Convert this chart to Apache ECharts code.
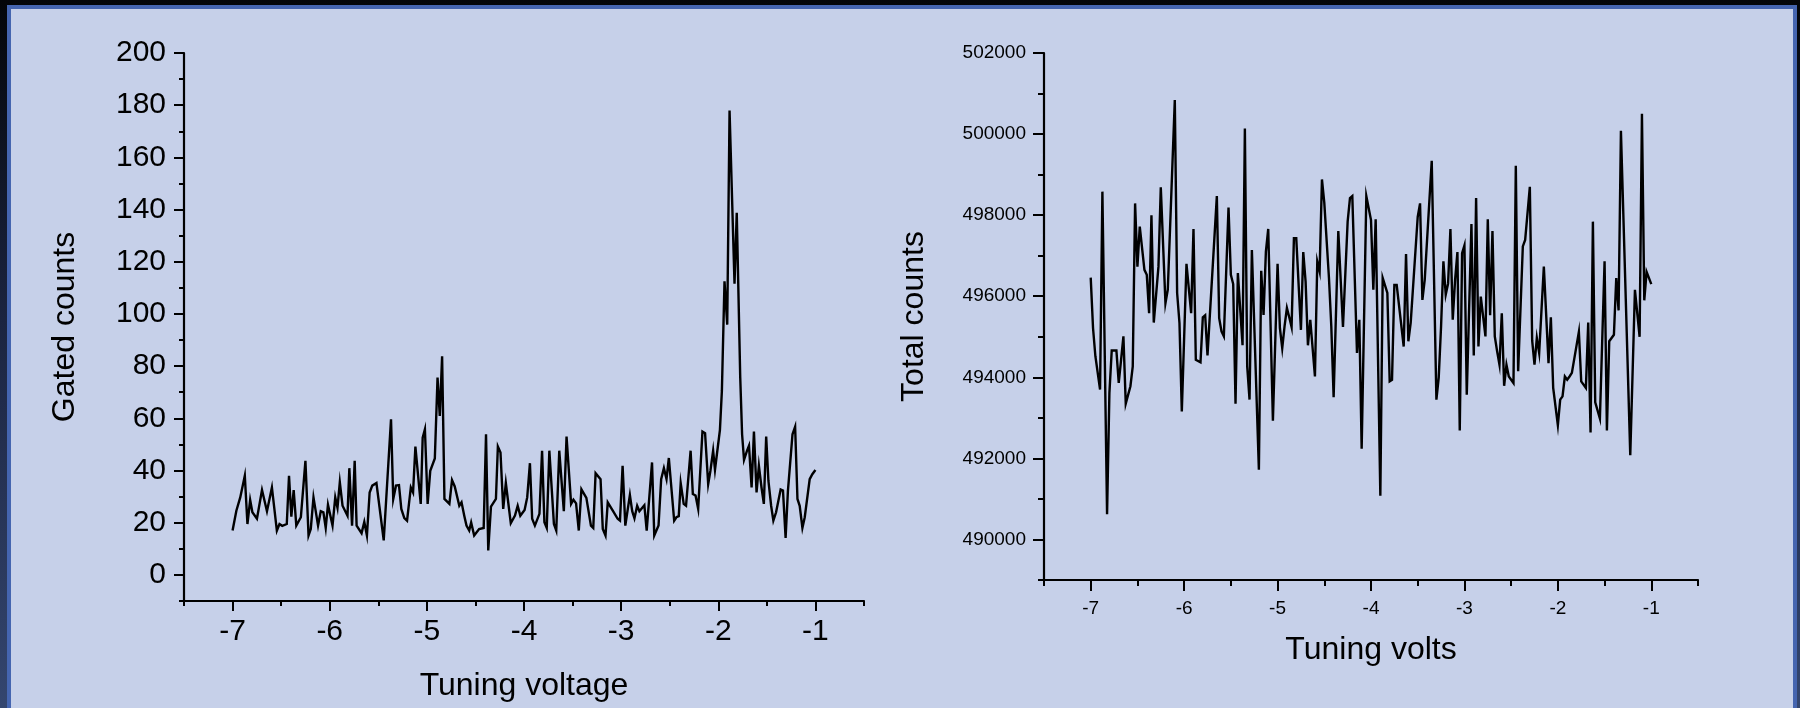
<!DOCTYPE html>
<html>
<head>
<meta charset="utf-8">
<script src="https://cdn.jsdelivr.net/npm/echarts@6/dist/echarts.min.js"></script>
<style>
html,body{margin:0;padding:0;width:1800px;height:708px;overflow:hidden;
  background:linear-gradient(180deg,#030509 0%,#1b2440 45%,#34466f 100%);}
#frame{position:absolute;left:7px;top:5px;width:1790px;height:720px;box-sizing:border-box;
  border:4px solid #4565B0;background:#C6D0E9;}
#chart{position:absolute;left:0;top:0;width:1800px;height:708px;}
</style>
</head>
<body>
<div id="frame"></div>
<div id="chart"></div>
<script>
// ---------- data ----------
// Left panel: Gated counts vs Tuning voltage
const leftVolts = [-7.000,-6.961,-6.921,-6.874,-6.847,-6.819,-6.796,-6.749,-6.697,-6.646,
-6.595,-6.544,-6.517,-6.489,-6.442,-6.419,-6.395,-6.371,-6.344,-6.297,
-6.250,-6.218,-6.195,-6.167,-6.120,-6.092,-6.065,-6.041,-6.018,-5.971,
-5.943,-5.920,-5.896,-5.868,-5.817,-5.798,-5.770,-5.743,-5.723,-5.672,
-5.644,-5.617,-5.589,-5.562,-5.519,-5.444,-5.369,-5.346,-5.318,-5.287,
-5.263,-5.232,-5.204,-5.165,-5.142,-5.118,-5.063,-5.043,-5.020,-4.992,
-4.965,-4.918,-4.890,-4.867,-4.843,-4.819,-4.768,-4.741,-4.713,-4.666,
-4.643,-4.615,-4.592,-4.564,-4.544,-4.513,-4.462,-4.415,-4.391,-4.368,
-4.340,-4.289,-4.269,-4.242,-4.214,-4.187,-4.136,-4.093,-4.065,-4.038,
-3.994,-3.967,-3.939,-3.916,-3.888,-3.841,-3.814,-3.790,-3.766,-3.739,
-3.692,-3.668,-3.637,-3.590,-3.562,-3.515,-3.491,-3.464,-3.436,-3.409,
-3.358,-3.311,-3.287,-3.263,-3.212,-3.189,-3.161,-3.138,-3.083,-3.036,
-3.012,-2.985,-2.957,-2.910,-2.886,-2.863,-2.835,-2.812,-2.761,-2.737,
-2.682,-2.659,-2.615,-2.588,-2.560,-2.533,-2.509,-2.454,-2.431,-2.407,
-2.387,-2.356,-2.332,-2.285,-2.262,-2.234,-2.207,-2.163,-2.136,-2.104,
-2.081,-2.053,-2.034,-1.983,-1.963,-1.936,-1.908,-1.884,-1.833,-1.810,
-1.774,-1.755,-1.735,-1.704,-1.684,-1.657,-1.633,-1.606,-1.582,-1.555,
-1.531,-1.507,-1.484,-1.456,-1.433,-1.405,-1.358,-1.334,-1.307,-1.283,
-1.236,-1.209,-1.185,-1.162,-1.134,-1.110,-1.059,-1.032,-1.000];
const leftCounts = [17.0,24.6,29.7,38.0,19.5,28.7,24.0,21.5,32.5,24.4,
33.5,17.0,19.5,18.8,19.5,38.0,22.3,32.5,18.9,22.1,
43.7,15.1,17.6,29.7,18.9,24.4,24.0,18.0,26.9,18.9,
29.7,25.7,35.5,26.5,22.7,40.9,18.9,43.7,18.9,16.0,
20.3,15.1,31.6,34.2,35.2,13.2,59.6,29.1,34.2,34.4,
25.3,21.8,20.8,33.5,31.6,49.2,27.2,52.6,55.8,27.2,
39.9,44.6,75.6,60.9,83.8,29.1,27.2,36.3,33.9,26.5,
27.8,22.7,18.9,17.0,20.1,15.1,17.6,18.0,53.9,9.4,
26.2,29.1,49.2,46.9,25.3,35.2,19.8,22.7,26.5,22.7,
24.9,29.7,42.8,21.5,18.9,23.4,47.6,20.2,18.0,47.6,
19.5,17.0,47.6,24.4,53.0,27.2,28.8,27.4,17.0,32.8,
29.5,18.9,18.0,39.0,36.7,17.6,15.1,27.8,24.4,21.5,
20.8,41.8,18.9,30.6,24.4,21.7,26.5,24.4,26.7,17.0,
43.1,15.1,18.9,36.7,40.9,36.7,44.8,20.8,22.1,22.5,
35.2,27.2,26.5,47.6,31.0,30.4,25.3,54.9,54.3,34.8,
39.9,47.6,40.3,55.6,70.5,112.5,95.9,178.0,111.6,138.8,
75.6,53.9,44.1,47.6,49.5,33.5,54.9,31.6,41.8,33.5,
27.2,53.0,36.1,26.5,20.8,24.0,32.7,32.3,14.2,32.3,
53.9,56.8,29.1,26.5,18.0,22.1,36.7,38.6,40.2];

// Right panel: Total counts vs Tuning volts
const rightVolts = [-7,-6.975,-6.95,-6.9,-6.875,-6.825,-6.8,-6.775,-6.725,-6.7,
-6.675,-6.65,-6.625,-6.575,-6.55,-6.525,-6.5,-6.475,-6.425,-6.4,
-6.375,-6.35,-6.325,-6.275,-6.25,-6.2,-6.175,-6.1,-6.075,-6.05,
-6.025,-5.975,-5.925,-5.9,-5.875,-5.825,-5.8,-5.775,-5.75,-5.65,
-5.625,-5.6,-5.575,-5.525,-5.5,-5.475,-5.45,-5.425,-5.375,-5.35,
-5.325,-5.3,-5.275,-5.2,-5.175,-5.15,-5.125,-5.1,-5.05,-5,
-4.975,-4.95,-4.925,-4.9,-4.875,-4.85,-4.825,-4.8,-4.75,-4.725,
-4.7,-4.675,-4.65,-4.6,-4.575,-4.55,-4.525,-4.5,-4.45,-4.425,
-4.4,-4.35,-4.3,-4.25,-4.225,-4.2,-4.15,-4.125,-4.1,
-4.05,-4,-3.975,-3.95,-3.9,-3.875,-3.825,-3.8,-3.775,-3.75,
-3.725,-3.65,-3.625,-3.6,-3.575,-3.5,-3.475,-3.45,-3.425,-3.35,
-3.3,-3.275,-3.25,-3.225,-3.2,-3.175,-3.15,-3.125,-3.1,-3.075,
-3.05,-3.025,-3,-2.975,-2.925,-2.9,-2.875,-2.85,-2.825,-2.775,
-2.75,-2.725,-2.7,-2.675,-2.65,-2.625,-2.6,-2.575,-2.55,-2.525,
-2.475,-2.45,-2.425,-2.375,-2.35,-2.3,-2.275,-2.25,-2.225,-2.2,
-2.15,-2.1,-2.075,-2.05,-2,-1.975,-1.95,-1.925,-1.9,-1.875,
-1.85,-1.775,-1.75,-1.7,-1.675,-1.65,-1.625,-1.6,-1.55,-1.5,
-1.475,-1.45,-1.4,-1.375,-1.35,-1.325,-1.225,-1.175,
-1.125,-1.1,-1.075,-1.05,-1];
const rightCounts = [496460,495210,494520,493700,498580,490620,493610,494660,494660,493860,
494430,495010,493350,493780,494270,498290,496730,497720,496650,496530,
495580,498000,495350,496730,498690,495830,496160,500840,496080,495340,
493160,496800,495580,497660,494430,494370,495480,495530,494540,498470,
495460,495130,495010,498190,496530,496300,493350,496570,494790,500140,
494270,493450,497140,491720,496630,495540,497100,497660,492930,496800,
495210,494720,495260,495710,495480,495240,497430,497430,495170,497090,
496360,494790,495420,494020,496860,496610,498880,498310,496450,495260,
493510,497610,495240,497840,498420,498470,494600,495420,492240,
498470,497880,496160,497900,491080,496450,496080,493900,493940,496280,
496280,494760,497040,494890,495350,497960,498290,495910,496400,499340,
493450,494000,495260,496860,496040,496310,497660,495420,496400,497090,
492690,497060,497250,493570,497780,494540,498420,494760,495990,495010,
497900,495530,497610,495010,494640,494310,495580,493790,494310,494020,
493860,499220,494150,497230,497390,498700,494910,494310,494970,494600,
496730,494350,495480,493740,492820,493450,493530,494020,493940,494020,
494110,495120,493900,493740,495350,492640,497840,493380,492980,496860,
492690,494890,495050,496450,495650,500080,492080,496160,
495000,500500,495900,496600,496300];

// tick values
const leftXTicks  = [-7,-6,-5,-4,-3,-2,-1];
const leftXMinor  = [-7.5,-6.5,-5.5,-4.5,-3.5,-2.5,-1.5,-0.5];
const leftYTicks  = [0,20,40,60,80,100,120,140,160,180,200];
const leftYMinor  = [-10,10,30,50,70,90,110,130,150,170,190];
const rightXTicks = [-7,-6,-5,-4,-3,-2,-1];
const rightXMinor = [-7.5,-6.5,-5.5,-4.5,-3.5,-2.5,-1.5,-0.5];
const rightYTicks = [490000,492000,494000,496000,498000,500000,502000];
const rightYMinor = [489000,491000,493000,495000,497000,499000,501000];

// ---------- chart ----------
const FONT = '"Liberation Sans", Arial, sans-serif';
const BLACK = '#000';
const leftData = leftVolts.map((v,i)=>[v,leftCounts[i]]);
const rightData = rightVolts.map((v,i)=>[v,rightCounts[i]]);

function mainAxis(o){
  return Object.assign({
    type:'value', splitLine:{show:false},
    axisLine:{show:true,onZero:false,lineStyle:{color:BLACK,width:2.2}},
  }, o);
}
function tickAxis(gridIndex,min,max,position,values,len){
  return {type:'value',gridIndex,min,max,position,
    axisLine:{show:false,onZero:false},
    axisTick:{show:true,customValues:values,length:len,lineStyle:{color:BLACK,width:2}},
    axisLabel:{show:false},splitLine:{show:false}};
}
const fmt = v => String(v);

const chart = echarts.init(document.getElementById('chart'),null,{renderer:'canvas'});
chart.setOption({
  animation:false,
  backgroundColor:'transparent',
  grid:[
    {left:184,top:53,width:680,height:548},
    {left:1044,top:53,width:654,height:527}
  ],
  xAxis:[
    mainAxis({gridIndex:0,min:-7.5,max:-0.5,position:'bottom',
      axisTick:{show:true,customValues:leftXTicks,length:10,lineStyle:{color:BLACK,width:2}},
      axisLabel:{customValues:leftXTicks,formatter:fmt,fontSize:30,color:BLACK,fontFamily:FONT,margin:16},
      name:'Tuning voltage',nameLocation:'middle',nameGap:69,
      nameTextStyle:{fontSize:32,color:BLACK,fontFamily:FONT}}),
    tickAxis(0,-7.5,-0.5,'bottom',leftXMinor,5),
    mainAxis({gridIndex:1,min:-7.5,max:-0.5,position:'bottom',
      axisTick:{show:true,customValues:rightXTicks,length:11,lineStyle:{color:BLACK,width:2}},
      axisLabel:{customValues:rightXTicks,formatter:fmt,fontSize:19,color:BLACK,fontFamily:FONT,margin:19},
      name:'Tuning volts',nameLocation:'middle',nameGap:54,
      nameTextStyle:{fontSize:32,color:BLACK,fontFamily:FONT}}),
    tickAxis(1,-7.5,-0.5,'bottom',rightXMinor,6)
  ],
  yAxis:[
    mainAxis({gridIndex:0,min:-10,max:200,position:'left',
      axisTick:{show:true,customValues:leftYTicks,length:10,lineStyle:{color:BLACK,width:2}},
      axisLabel:{customValues:leftYTicks,formatter:fmt,fontSize:30,color:BLACK,fontFamily:FONT,margin:18},
      name:'Gated counts',nameLocation:'middle',nameGap:103,nameRotate:90,
      nameTextStyle:{fontSize:32,color:BLACK,fontFamily:FONT}}),
    tickAxis(0,-10,200,'left',leftYMinor,5),
    mainAxis({gridIndex:1,min:489000,max:502000,position:'left',
      axisTick:{show:true,customValues:rightYTicks,length:11,lineStyle:{color:BLACK,width:2}},
      axisLabel:{customValues:rightYTicks,formatter:fmt,fontSize:19,color:BLACK,fontFamily:FONT,margin:18},
      name:'Total counts',nameLocation:'middle',nameGap:114,nameRotate:90,
      nameTextStyle:{fontSize:32,color:BLACK,fontFamily:FONT}}),
    tickAxis(1,489000,502000,'left',rightYMinor,6)
  ],
  series:[
    {type:'line',xAxisIndex:0,yAxisIndex:0,data:leftData,showSymbol:false,symbol:'none',
      lineStyle:{color:BLACK,width:2.4,join:'miter'},silent:true},
    {type:'line',xAxisIndex:2,yAxisIndex:2,data:rightData,showSymbol:false,symbol:'none',
      lineStyle:{color:BLACK,width:2.4,join:'miter'},silent:true}
  ]
});
</script>
</body>
</html>
